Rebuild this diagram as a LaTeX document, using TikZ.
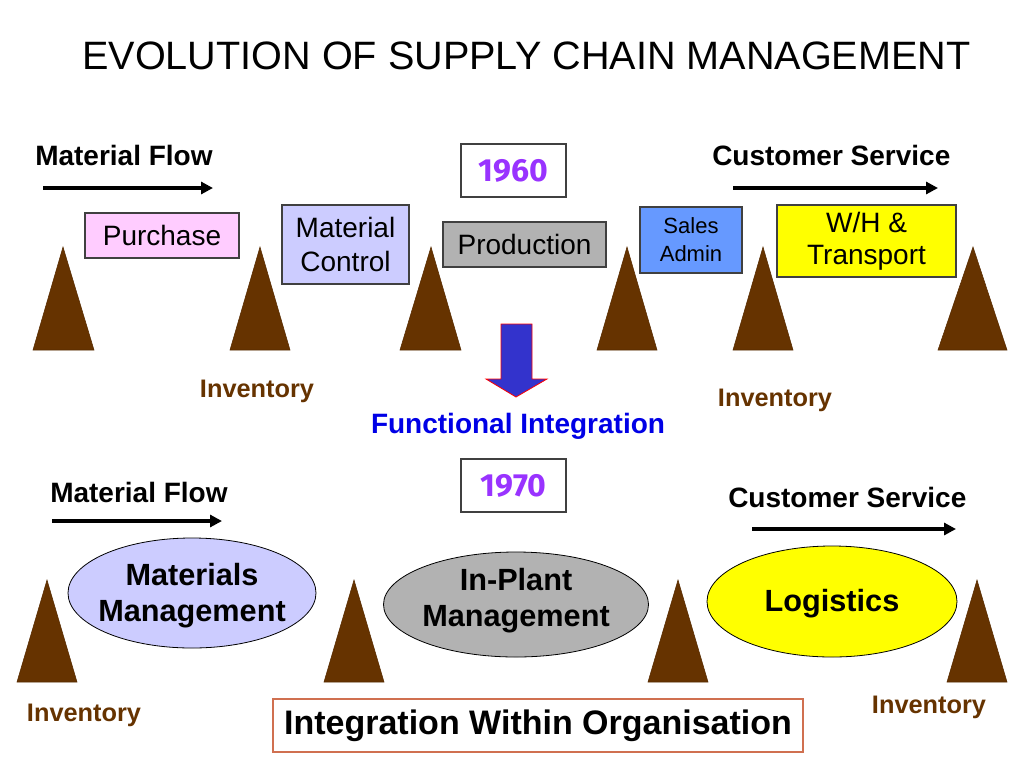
\documentclass[tikz,border=0pt]{standalone}
\usepackage{fontspec}
\setmainfont{Liberation Sans}
\newfontfamily\yearfont{Fira Sans}
\usetikzlibrary{shapes.geometric,arrows.meta}
\definecolor{pilebrown}{HTML}{663300}
\definecolor{pinkfill}{HTML}{FFCCFF}
\definecolor{lavfill}{HTML}{CCCCFF}
\definecolor{grayfill}{HTML}{B2B2B2}
\definecolor{bluefill}{HTML}{6699FF}
\definecolor{yellowfill}{HTML}{FFFF00}
\definecolor{yearpurple}{HTML}{9933FF}
\definecolor{funcblue}{HTML}{0000E6}
\definecolor{downblue}{HTML}{3333CC}
\definecolor{orgborder}{HTML}{D07050}
\definecolor{boxborder}{HTML}{404040}
\begin{document}
\begin{tikzpicture}[x=0.75pt,y=-0.75pt,
  box/.style={draw=boxborder, line width=0.8pt, inner sep=0pt, align=center,
    font=\fontsize{21}{25.5}\selectfont},
  yearbox/.style={draw=boxborder, line width=0.8pt, fill=white, inner sep=0pt,
    minimum width=78.75pt, minimum height=39.75pt,
    font=\yearfont\bfseries\fontsize{24}{28}\selectfont, text=yearpurple},
  inv/.style={text=pilebrown, font=\bfseries\fontsize{19}{22}\selectfont, anchor=base, inner sep=0pt},
  lbl/.style={font=\bfseries\fontsize{21}{25}\selectfont, anchor=base west, inner sep=0pt},
  flow/.style={line width=3pt, -{Triangle[length=9pt,width=9pt]}},
  pile/.style={fill=pilebrown, draw=pilebrown!85!black, line width=0.4pt},
  ell/.style={ellipse, draw=black, line width=0.6pt, inner sep=0pt},
  elltext/.style={inner sep=0pt, align=center, font=\bfseries\fontsize{23}{27}\selectfont}
]
\useasboundingbox (0,0) rectangle (1024,768);
\fill[white] (0,0) rectangle (1024,768);

% title
\node[anchor=base west, inner sep=0pt, font=\fontsize{29.7}{34}\selectfont] (title) at (82,69)
  {EVOLUTION OF SUPPLY CHAIN MANAGEMENT};

% ---------- 1960 ----------
\node[lbl] (mf1) at (35,165) {Material Flow};
\coordinate (mf1a) at (43,188);
\coordinate (mf1b) at (213,188);
\draw[flow] (mf1a) -- (mf1b);

\node[lbl] (cs1) at (712,165) {Customer Service};
\coordinate (cs1a) at (733,188);
\coordinate (cs1b) at (938,188);
\draw[flow] (cs1a) -- (cs1b);

\node[yearbox] (y1960) at (513.5,170.5) {1960};

\node[box, fill=pinkfill, minimum width=115.5pt, minimum height=33.75pt] (purchase) at (162,235.5) {Purchase};
\node[box, fill=lavfill, minimum width=95.25pt, minimum height=59.25pt] (matctrl) at (345.5,244.5) {Material\\Control};
\node[box, fill=grayfill, minimum width=122.25pt, minimum height=33.75pt] (production) at (524.5,244.5) {Production};
\node[box, fill=bluefill, minimum width=76.5pt, minimum height=49.5pt,
  font=\fontsize{16.5}{21}\selectfont] (sales) at (691,240) {Sales\\Admin};
\node[box, fill=yellowfill, minimum width=134.25pt, minimum height=54pt,
  font=\fontsize{21}{24}\selectfont] (wh) at (866.5,241) {W/H \&\\Transport};

% inventory piles (top)
\draw[pile] (33,350) -- (63,247) -- (94,350) -- cycle;
\draw[pile] (230,350) -- (260,247) -- (290,350) -- cycle;
\draw[pile] (400,350) -- (431,247) -- (461,350) -- cycle;
\draw[pile] (597,350) -- (627,247) -- (657,350) -- cycle;
\draw[pile] (733,350) -- (763,247) -- (793,350) -- cycle;
\draw[pile] (938,350) -- (973,247) -- (1007,350) -- cycle;

\node[inv] (inv1) at (257,397) {Inventory};
\node[inv] (inv2) at (775,406) {Inventory};

% down arrow
\draw[fill=downblue, draw=red, line width=0.6pt]
  (501,324) -- (532,324) -- (532,379) -- (547,379) -- (516,397) -- (486,379) -- (501,379) -- cycle;

\node[anchor=base, inner sep=0pt, text=funcblue, font=\bfseries\fontsize{21}{25}\selectfont] (func) at (518,433)
  {Functional Integration};

% ---------- 1970 ----------
\node[yearbox] (y1970) at (513.5,485.5) {1970};

\node[lbl] (mf2) at (50,502) {Material Flow};
\coordinate (mf2a) at (52,521);
\coordinate (mf2b) at (222,521);
\draw[flow] (mf2a) -- (mf2b);

\node[lbl] (cs2) at (728,507) {Customer Service};
\coordinate (cs2a) at (752,529);
\coordinate (cs2b) at (956,529);
\draw[flow] (cs2a) -- (cs2b);

\node[ell, fill=lavfill, minimum width=186pt, minimum height=82.5pt] (mm) at (192,593) {};
\node[elltext] (mmt) at (192,596) {Materials\\Management};
\node[ell, fill=grayfill, minimum width=198.75pt, minimum height=78.75pt] (inplant) at (516,604.5) {};
\node[elltext] (inplantt) at (516,601) {In-Plant\\Management};
\node[ell, fill=yellowfill, minimum width=187.5pt, minimum height=83.25pt] (logi) at (832,601.5) {};
\node[elltext] (logit) at (832,604) {Logistics};

% inventory piles (bottom)
\draw[pile] (17,682) -- (47,580) -- (77,682) -- cycle;
\draw[pile] (324,682) -- (354,580) -- (384,682) -- cycle;
\draw[pile] (648,682) -- (678,580) -- (708,682) -- cycle;
\draw[pile] (947,682) -- (977,580) -- (1007,682) -- cycle;

\node[inv] (inv3) at (84,721) {Inventory};
\node[inv] (inv4) at (929,713) {Inventory};

\node[draw=orgborder, line width=0.8pt, inner sep=0pt, minimum width=397.5pt, minimum height=39.75pt,
  font=\bfseries\fontsize{25.5}{30}\selectfont] (org) at (538,725.5) {Integration Within Organisation};
\end{tikzpicture}
\end{document}
